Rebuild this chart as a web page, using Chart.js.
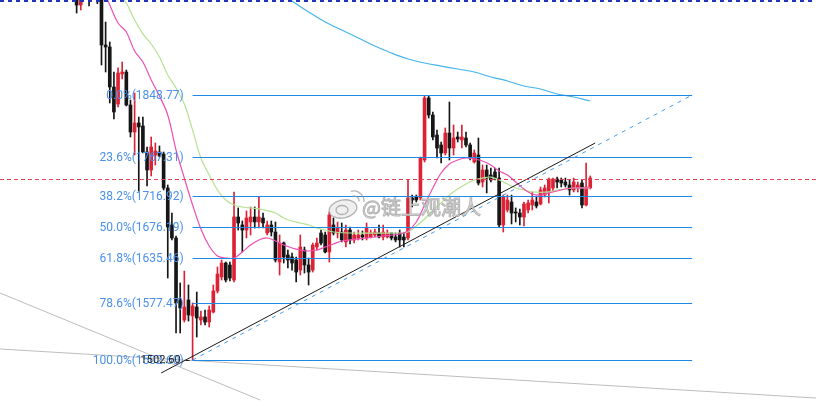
<!DOCTYPE html>
<html>
<head>
<meta charset="utf-8">
<script src="https://cdn.jsdelivr.net/npm/chart.js@4.4.1/dist/chart.umd.min.js"></script>
<style>
  html, body { margin: 0; padding: 0; background: #fff; overflow: hidden; }
  #c { display: block; }
</style>
</head>
<body>
<canvas id="c" width="816" height="415"></canvas>
<script>
// ==============================
// data
// ==============================
const slotCount = 197;   // candle slots across the window
const firstSlot = 18;    // slot of the first candle in the arrays below

const opens = [
  1990, 1966.3, null, 1995, null, 1990, 1990, 1914.1, 1911.5, 1859.2,
  1837.0, 1876.2, 1878.8, 1835.7, 1800.4, 1812.2, 1808.3, 1774.3, 1750.8, 1770.4,
  1774.3, 1771.7, 1727.3, 1679.0, 1662.0, 1581.0, 1554.8, 1581.0, 1560.1, 1571.8,
  1554.8, 1558.8, 1552.2, 1565.3, 1592.7, 1611.0, 1629.3, 1626.7, 1607.1, 1689.4,
  1679.0, 1672.4, 1682.9, 1689.4, 1682.9, 1688.1, 1668.5, 1679.0, 1669.8, 1630.6,
  1655.4, 1639.8, 1637.2, 1633.2, 1620.1, 1646.3, 1626.7, 1620.1, 1650.2, 1668.5,
  1665.9, 1643.7, 1679.0, 1668.5, 1669.8, 1656.8, 1672.4, 1659.4, 1662.0, 1665.9,
  1662.0, 1663.3, 1665.9, 1668.5, 1663.3, 1663.3, 1668.5, 1663.3, 1668.5, 1663.3,
  1662.0, 1714.2, 1715.5, 1714.2, 1763.9, 1844.9, 1822.6, 1796.5, 1783.5, 1773.0,
  1799.1, 1779.5, 1793.9, 1790.0, 1792.6, 1783.5, 1761.3, 1770.4, 1735.1, 1750.8,
  1744.3, 1748.2, 1740.3, 1679.0, 1698.6, 1709.0, 1696.0, 1694.6, 1689.4, 1698.6,
  1705.1, 1709.0, 1706.4, 1718.1, 1722.1, 1727.3, 1739.0, 1737.7, 1735.1, 1731.2,
  1724.7, 1727.3, 1733.8, 1705.1, 1727.3
];
const highs = [
  1995, 1985, null, 2000, null, 1995, 1995, 1944.1, 1918.0, 1878.8,
  1884.1, 1891.9, 1881.4, 1842.2, 1851.4, 1820.0, 1820.0, 1780.9, 1793.9, 1786.1,
  1782.2, 1774.3, 1731.2, 1694.6, 1664.6, 1603.2, 1618.8, 1600.6, 1577.1, 1591.4,
  1566.6, 1567.9, 1573.1, 1600.6, 1624.1, 1633.2, 1630.6, 1630.6, 1722.1, 1701.2,
  1684.2, 1697.3, 1702.5, 1702.5, 1715.5, 1694.6, 1684.2, 1684.2, 1682.9, 1665.9,
  1656.8, 1646.3, 1642.4, 1637.2, 1665.9, 1650.2, 1635.8, 1655.4, 1662.0, 1672.4,
  1669.8, 1696.0, 1688.1, 1682.9, 1681.6, 1679.0, 1676.3, 1669.8, 1672.4, 1671.1,
  1681.6, 1672.4, 1673.7, 1679.0, 1679.0, 1672.4, 1668.5, 1668.5, 1672.4, 1668.5,
  1737.7, 1718.1, 1718.1, 1767.8, 1847.5, 1847.5, 1826.6, 1803.0, 1787.4, 1805.7,
  1839.6, 1809.6, 1800.4, 1809.6, 1800.4, 1786.1, 1777.0, 1792.6, 1757.3, 1757.3,
  1753.4, 1753.4, 1753.4, 1718.1, 1718.1, 1718.1, 1701.2, 1699.9, 1709.0, 1711.6,
  1722.1, 1716.8, 1728.6, 1731.2, 1740.3, 1740.3, 1741.6, 1740.3, 1740.3, 1737.7,
  1740.3, 1735.1, 1737.7, 1759.9, 1743.0
];
const lows = [
  1955.9, 1959.8, null, 1965.0, null, 1968, 1888.0, 1878.8, 1838.3, 1817.4,
  1833.1, 1869.7, 1834.4, 1793.9, 1770.4, 1723.4, 1773.0, 1729.9, 1743.0, 1757.3,
  1767.8, 1724.7, 1609.7, 1659.4, 1537.9, 1537.9, 1552.2, 1553.5, 1502.6, 1532.6,
  1548.3, 1548.3, 1545.7, 1564.0, 1590.1, 1607.1, 1604.5, 1605.8, 1604.5, 1672.4,
  1643.7, 1662.0, 1665.9, 1675.0, 1675.0, 1675.0, 1665.9, 1664.6, 1630.6, 1613.6,
  1629.3, 1622.8, 1620.1, 1604.5, 1613.6, 1616.2, 1600.6, 1617.5, 1646.3, 1652.8,
  1642.4, 1630.6, 1665.9, 1662.0, 1656.8, 1650.2, 1654.1, 1655.4, 1659.4, 1659.4,
  1659.4, 1662.0, 1663.3, 1662.0, 1659.4, 1662.0, 1659.4, 1656.8, 1650.2, 1650.2,
  1659.4, 1702.5, 1709.0, 1711.6, 1761.3, 1818.7, 1790.0, 1766.5, 1759.9, 1770.4,
  1763.9, 1770.4, 1787.4, 1779.5, 1780.9, 1763.9, 1759.9, 1731.2, 1728.6, 1720.8,
  1735.1, 1737.7, 1676.3, 1669.8, 1696.0, 1680.3, 1682.9, 1679.0, 1677.6, 1694.6,
  1698.6, 1701.2, 1705.1, 1715.5, 1707.7, 1723.4, 1727.3, 1728.6, 1728.6, 1718.1,
  1722.1, 1722.1, 1701.2, 1703.8, 1726.0
];
const closes = [
  1966.3, 1976, null, 1985, null, 1975, 1914.1, 1911.5, 1859.2, 1826.6,
  1877.5, 1878.8, 1835.7, 1800.4, 1812.2, 1807.0, 1774.3, 1750.8, 1780.9, 1775.6,
  1769.1, 1727.3, 1676.3, 1662.0, 1577.1, 1570.5, 1571.8, 1561.4, 1573.1, 1557.5,
  1558.8, 1552.2, 1567.9, 1592.7, 1614.9, 1629.3, 1607.1, 1609.7, 1689.4, 1681.6,
  1672.4, 1688.1, 1689.4, 1682.9, 1689.4, 1681.6, 1679.0, 1669.8, 1633.2, 1655.4,
  1637.2, 1633.2, 1629.3, 1617.5, 1650.2, 1626.7, 1617.5, 1652.8, 1655.4, 1655.4,
  1643.7, 1692.0, 1668.5, 1675.0, 1659.4, 1672.4, 1659.4, 1665.9, 1665.9, 1663.3,
  1675.0, 1668.5, 1669.8, 1663.3, 1669.8, 1668.5, 1662.0, 1659.4, 1659.4, 1659.4,
  1714.2, 1711.6, 1711.6, 1766.5, 1844.9, 1822.6, 1793.9, 1779.5, 1773.0, 1799.1,
  1779.5, 1792.6, 1791.3, 1793.9, 1783.5, 1766.5, 1773.0, 1733.8, 1750.8, 1740.3,
  1737.7, 1740.3, 1679.0, 1715.5, 1711.6, 1694.6, 1694.6, 1689.4, 1706.4, 1707.7,
  1711.6, 1703.8, 1724.7, 1727.3, 1739.0, 1739.0, 1735.1, 1733.8, 1731.2, 1724.7,
  1735.1, 1731.2, 1705.1, 1728.6, 1740.3
];

// moving averages: [slot, price]
const maPink = [
  [24, 1992.5], [26, 1966.3], [28, 1942.8], [30, 1931.1], [32, 1906.3], [34, 1891.9],
  [36, 1868.4], [38, 1847.5], [40, 1822.6], [42, 1776.9], [44, 1740.3], [46, 1705.1],
  [48, 1673.7], [50, 1651.5], [52, 1638.5], [54, 1635.8], [56, 1635.8], [58, 1643.7],
  [60, 1652.8], [62, 1659.4], [64, 1662.0], [66, 1658.1], [68, 1652.8], [70, 1648.9],
  [72, 1646.3], [74, 1645.0], [76, 1646.3], [78, 1650.2], [80, 1654.1], [82, 1658.1],
  [84, 1659.4], [88, 1662.0], [92, 1664.6], [96, 1667.2], [98, 1671.1], [100, 1682.9],
  [102, 1705.1], [104, 1727.3], [106, 1746.9], [108, 1758.6], [110, 1763.9], [112, 1766.5],
  [114, 1765.2], [116, 1762.6], [118, 1757.3], [120, 1749.5], [122, 1744.3], [124, 1735.1],
  [126, 1726.0], [128, 1719.4], [130, 1718.1], [132, 1720.8], [134, 1723.4], [136, 1726.0],
  [138, 1727.3], [142, 1727.3]
];
const maGreen = [
  [28, 1983.3], [30, 1969.0], [32, 1946.7], [34, 1928.5], [36, 1915.4], [38, 1898.4],
  [40, 1874.9], [42, 1857.9], [44, 1836.9], [46, 1802.9], [48, 1766.5], [50, 1744.3],
  [52, 1724.7], [54, 1711.6], [56, 1705.1], [58, 1702.5], [62, 1699.9], [66, 1694.6],
  [68, 1688.1], [70, 1684.2], [72, 1681.6], [74, 1679.0], [76, 1675.0], [78, 1672.4],
  [80, 1669.8], [84, 1668.5], [96, 1668.5], [98, 1669.8], [100, 1677.6], [102, 1686.8],
  [104, 1698.6], [106, 1707.7], [108, 1718.1], [110, 1726.0], [112, 1732.5], [114, 1737.7],
  [116, 1740.3], [118, 1741.6], [120, 1737.7], [122, 1732.5], [124, 1727.3], [126, 1724.7],
  [128, 1722.1], [132, 1722.1], [134, 1724.7], [136, 1726.0], [138, 1727.3], [142, 1727.3]
];
const maBlue = [
  [68, 1979.4], [70, 1971.6], [74, 1957.2], [78, 1944.1], [82, 1933.7], [86, 1923.2],
  [90, 1912.8], [94, 1903.6], [98, 1895.8], [102, 1890.6], [106, 1886.6], [110, 1882.7],
  [114, 1878.8], [118, 1872.3], [122, 1867.1], [126, 1860.5], [130, 1856.6], [134, 1850.1],
  [138, 1846.2], [142, 1840.9]
];

// fibonacci retracement, low at slot 46 up to the right edge of the tool
const fibRatios = [0, 23.6, 38.2, 50, 61.8, 78.6, 100];
const fibPrices = [1848.77, 1767.31, 1716.92, 1676.19, 1635.46, 1577.47, 1502.60];
const fibFrom = 46;
const fibTo = 166.6;
const lowMark = "1502.60";

// drawn lines: [[slot, price], [slot, price]]
const trendBlack = [[38.4, 1485.6], [143.2, 1786.1]];
const fibDiagonal = [[46, 1502.6], [166.6, 1848.77]];
const greyLines = [
  [[-0.5, 1590.1], [62.3, 1450.3]],
  [[-0.5, 1517.0], [196.5, 1452.9]]
];
const lastPrice = 1739.0;
const topLine = 1971.6;

const watermark = "@链上观潮人";

// ==============================
// build datasets
// ==============================
const UP = "#dd2235";
const DOWN = "#161616";

const bodies = [], wicks = [], colors = [];
opens.forEach((o, k) => {
  if (o === null) return;
  const slot = firstSlot + k;
  bodies.push({ x: slot, y: [o, closes[k]] });
  wicks.push({ x: slot, y: [lows[k], highs[k]] });
  colors.push(closes[k] >= o ? UP : DOWN);
});

const toPts = (arr) => arr.map(([x, y]) => ({ x, y }));

// ==============================
// overlay plugins
// ==============================
function segment(ctx, px, py, a, b) {
  ctx.beginPath();
  ctx.moveTo(px(a[0]), py(a[1]));
  ctx.lineTo(px(b[0]), py(b[1]));
  ctx.stroke();
}

const underlayPlugin = {
  id: "underlay",
  beforeDatasetsDraw(chart) {
    const ctx = chart.ctx;
    const px = (v) => chart.scales.x.getPixelForValue(v);
    const py = (v) => chart.scales.y.getPixelForValue(v);
    ctx.save();
    ctx.strokeStyle = "#bdbdbd";
    ctx.lineWidth = 1;
    greyLines.forEach(([a, b]) => segment(ctx, px, py, a, b));
    ctx.restore();
  },
};

const overlayPlugin = {
  id: "overlay",
  afterDatasetsDraw(chart) {
    const ctx = chart.ctx;
    const px = (v) => chart.scales.x.getPixelForValue(v);
    const py = (v) => chart.scales.y.getPixelForValue(v);
    const { left, right } = chart.chartArea;
    const crisp = (v) => Math.round(v) + 0.5;

    ctx.save();

    // fib levels
    const x0 = px(fibFrom);
    const x1 = px(fibTo);
    ctx.lineWidth = 1;
    ctx.strokeStyle = "#1e88e5";
    ctx.font = "12px Roboto";
    ctx.textAlign = "right";
    ctx.textBaseline = "middle";
    fibPrices.forEach((p, k) => {
      const y = crisp(py(p));
      ctx.beginPath();
      ctx.moveTo(x0, y);
      ctx.lineTo(x1, y);
      ctx.stroke();
      ctx.fillStyle = "#4a90ec";
      ctx.fillText(fibRatios[k].toFixed(1) + "%(" + p.toFixed(2) + ")", x0 - 9, y);
    });

    // low price marker
    const lowY = py(fibPrices[fibPrices.length - 1]);
    ctx.font = "11px Roboto";
    ctx.fillStyle = "#222";
    ctx.fillText(lowMark, x0 - 12, lowY);
    ctx.strokeStyle = "#222";
    ctx.beginPath();
    ctx.moveTo(x0 - 7, crisp(lowY));
    ctx.lineTo(x0 - 3, crisp(lowY));
    ctx.stroke();

    // fib diagonal
    ctx.strokeStyle = "#3d9cf0";
    ctx.setLineDash([4, 5]);
    segment(ctx, px, py, fibDiagonal[0], fibDiagonal[1]);
    ctx.setLineDash([]);

    // trend line
    ctx.strokeStyle = "#1a1a1a";
    segment(ctx, px, py, trendBlack[0], trendBlack[1]);

    // last price
    ctx.strokeStyle = "#e0404f";
    ctx.setLineDash([4, 3]);
    ctx.beginPath();
    ctx.moveTo(left, crisp(py(lastPrice)));
    ctx.lineTo(right, crisp(py(lastPrice)));
    ctx.stroke();

    // top dotted line
    ctx.strokeStyle = "#2233bb";
    ctx.lineWidth = 2;
    ctx.setLineDash([4, 4]);
    ctx.beginPath();
    ctx.moveTo(left, py(topLine));
    ctx.lineTo(right, py(topLine));
    ctx.stroke();
    ctx.setLineDash([]);

    // watermark
    const wx = 362, wy = 207;
    ctx.lineWidth = 1.3;
    ctx.strokeStyle = "rgba(150,150,150,0.7)";
    ctx.fillStyle = "rgba(235,235,235,0.8)";
    ctx.beginPath();
    ctx.ellipse(wx - 19, wy + 2, 14, 9, -0.2, 0, Math.PI * 2);
    ctx.fill();
    ctx.stroke();
    ctx.beginPath();
    ctx.ellipse(wx - 20, wy + 3, 6, 4.5, 0, 0, Math.PI * 2);
    ctx.stroke();
    ctx.beginPath();
    ctx.arc(wx - 8, wy - 6, 5, -Math.PI * 0.6, 0.1);
    ctx.stroke();
    ctx.beginPath();
    ctx.arc(wx - 8, wy - 6, 10, -Math.PI * 0.6, 0.1);
    ctx.stroke();

    ctx.font = "20px 'Noto Sans CJK SC'";
    ctx.textAlign = "left";
    ctx.textBaseline = "middle";
    ctx.fillStyle = "rgba(225,225,225,0.85)";
    ctx.lineWidth = 1;
    ctx.strokeStyle = "rgba(165,165,165,0.8)";
    ctx.fillText(watermark, wx, wy);
    ctx.strokeText(watermark, wx, wy);

    ctx.restore();
  },
};

// ==============================
// chart
// ==============================
const lineDs = (data, color, order) => ({
  type: "line",
  data: toPts(data),
  borderColor: color,
  borderWidth: 1.2,
  pointRadius: 0,
  tension: 0.35,
  fill: false,
  order,
});

new Chart(document.getElementById("c"), {
  type: "bar",
  data: {
    datasets: [
      lineDs(maPink, "#ee4fb3", 1),
      lineDs(maGreen, "#b6e292", 2),
      lineDs(maBlue, "#45b4ec", 3),
      {
        data: bodies,
        backgroundColor: colors,
        barThickness: 3,
        minBarLength: 1,
        grouped: false,
        clip: 0,
        order: 4,
      },
      {
        data: wicks,
        backgroundColor: colors,
        barThickness: 1,
        grouped: false,
        clip: 0,
        order: 5,
      },
    ],
  },
  options: {
    responsive: false,
    animation: false,
    events: [],
    layout: { padding: 0 },
    plugins: {
      legend: { display: false },
      tooltip: { enabled: false },
    },
    scales: {
      x: {
        type: "linear",
        min: -0.5,
        max: slotCount - 0.5,
        offset: false,
        display: false,
      },
      y: {
        min: 1430.75,
        max: 1972.87,
        display: false,
      },
    },
  },
  plugins: [underlayPlugin, overlayPlugin],
});
</script>
</body>
</html>
